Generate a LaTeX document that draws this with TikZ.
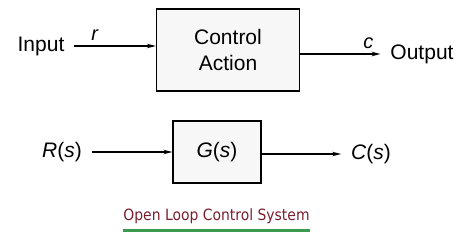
\documentclass[tikz,border=0pt]{standalone}
\usepackage{fontspec}
\setmainfont{Liberation Sans}
\newfontfamily\capfont{DejaVu Sans Condensed}
\usepackage{xcolor}
\usetikzlibrary{arrows.meta,positioning,calc}

\definecolor{capred}{HTML}{7A1E2E}
\definecolor{capgreen}{HTML}{3C9A50}

\begin{document}
\begin{tikzpicture}[
  x=1pt, y=-1pt,
  font=\fontsize{21}{26}\selectfont,
  blockbox/.style={
    draw, line width=1.3pt, fill=black!3, align=center, inner sep=0pt
  },
  word/.style={inner sep=0pt, outer sep=10pt},
  sig/.style={font=\fontsize{20}{24}\selectfont\itshape, inner sep=2pt},
  arr/.style={-{Stealth[length=9pt,width=4.5pt]}, line width=1.2pt}
]
\useasboundingbox (0,0) rectangle (474,241);

% open loop, words
\node[blockbox, minimum width=143pt, minimum height=82pt] (act) at (228,50)
  {Control\\Action};
\node[word] (inp) at (41,46) {Input};
\node[word] (outp) at (422,54) {Output};

\draw[arr] (inp.east) -- (inp.east -| act.west)
  node[sig, pos=0.25, above=3pt] (r) {r};
\draw[arr] (act.east |- outp.west) -- (outp.west)
  node[sig, pos=0.85, above=3pt] (c) {c};

% open loop, transfer function
\node[blockbox, minimum width=88pt, minimum height=62pt] (gs) at (217,152)
  {\textit{G}(\textit{s})};
\node[word] (rs) at (62,152) {\textit{R}(\textit{s})};
\node[word] (cs) at (371,154) {\textit{C}(\textit{s})};

\draw[arr] (rs.east) -- (rs.east -| gs.west);
\draw[arr] (gs.east |- cs.west) -- (cs.west);

% caption
\node[font=\capfont\fontsize{15.5}{18}\selectfont, text=capred, inner sep=0pt]
  (cap) at (216.5,216) {Open Loop Control System};
\draw[capgreen, line width=3pt] ($(cap.south west)+(0,7)$) -- ($(cap.south east)+(0,7)$);
\end{tikzpicture}
\end{document}
